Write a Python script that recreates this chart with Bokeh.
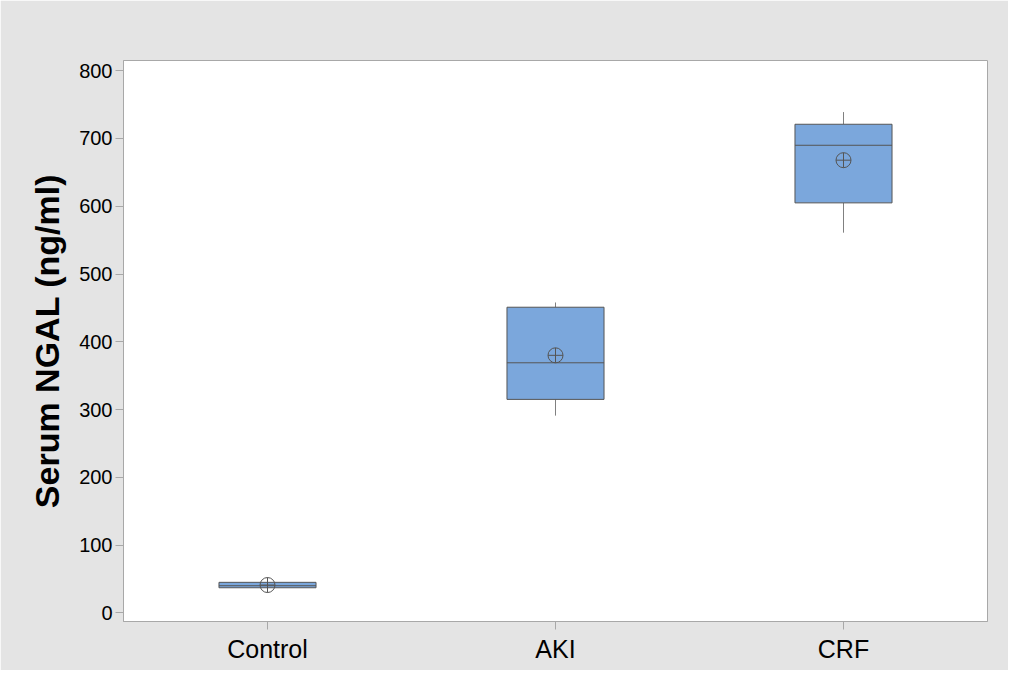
from bokeh.plotting import figure
from bokeh.models import ColumnDataSource, Range1d, FactorRange, SingleIntervalTicker
from bokeh.transform import dodge
from bokeh.embed import file_html
from bokeh.resources import INLINE

groups = ["Control", "AKI", "CRF"]
q1 = [37, 315, 605]
median = [40, 369, 690]
q3 = [45, 451, 721]
whisker_low = [37, 291, 561]
whisker_high = [45, 458, 739]
means = [41, 380, 668]

src = ColumnDataSource(dict(g=groups, q1=q1, med=median, q3=q3,
                            lo=whisker_low, hi=whisker_high, mean=means))

p = figure(width=1008, height=670, x_range=FactorRange(*groups, range_padding=0),
           y_range=Range1d(-12.8, 815.1), output_backend="svg", toolbar_location=None,
           min_border_left=123, min_border_top=60, min_border_right=21, min_border_bottom=49)
p.background_fill_color = "white"
p.border_fill_color = "#e4e4e4"
p.outline_line_color = "#a8a8a8"
p.outline_line_width = 1
p.xgrid.visible = False
p.ygrid.visible = False

bw = 0.337
# whiskers
p.segment(x0="g", y0="q3", x1="g", y1="hi", source=src, line_color="#808080", line_width=1)
p.segment(x0="g", y0="lo", x1="g", y1="q1", source=src, line_color="#808080", line_width=1)
# boxes
p.vbar(x="g", bottom="q1", top="q3", width=bw, source=src,
       fill_color="#7ba7dc", line_color="#555555", line_width=1)
# median
p.segment(x0=dodge("g", -bw / 2, range=p.x_range), y0="med",
          x1=dodge("g", bw / 2, range=p.x_range), y1="med", source=src,
          line_color="#555555", line_width=1)
# mean
p.scatter(x="g", y="mean", source=src, marker="circle_cross", size=15,
          fill_alpha=0, line_color="#555555", line_width=1)

p.yaxis.ticker = SingleIntervalTicker(interval=100, num_minor_ticks=0)
for ax in (p.xaxis[0], p.yaxis[0]):
    ax.axis_line_color = "#a8a8a8"
    ax.major_tick_line_color = "#a8a8a8"
    ax.minor_tick_line_color = None
    ax.major_tick_out = 8
    ax.major_tick_in = 0
    ax.major_label_text_color = "black"
    ax.major_label_text_font = "Liberation Sans"

p.yaxis.major_label_text_font_size = "20px"
p.yaxis.major_label_standoff = 3
p.xaxis.major_label_text_font_size = "25px"
p.xaxis.major_label_standoff = 5
p.yaxis.axis_label = "Serum NGAL (ng/ml)"
p.yaxis.axis_label_text_font = "Liberation Sans"
p.yaxis.axis_label_text_font_size = "34px"
p.yaxis.axis_label_text_font_style = "bold"
p.yaxis.axis_label_text_color = "black"
p.yaxis.axis_label_standoff = 10

html = file_html(p, INLINE)
html = html.replace("<body>", '<body style="background:#e4e4e4;">', 1)
open("out.html", "w").write(html)
